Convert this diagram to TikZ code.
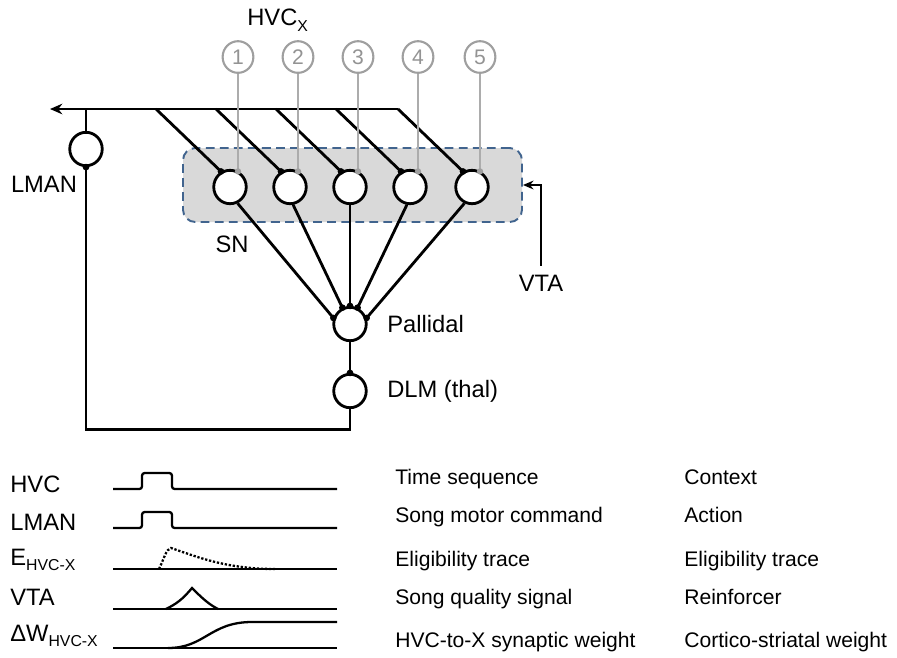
\documentclass[tikz,border=0pt]{standalone}
\usepackage{fontspec}
\setmainfont{Liberation Sans}
\usetikzlibrary{positioning, shapes.geometric, fit, arrows.meta}
\definecolor{boxgray}{HTML}{D9D9D9}
\definecolor{boxblue}{HTML}{41648E}
\newcommand{\lowsub}[1]{\raisebox{-0.45ex}{\fontsize{9}{10}\selectfont #1}}

\begin{document}
\begin{tikzpicture}[x=0.02cm, y=-0.02cm,
		neuron/.style={draw, ellipse, fill=white, line width=1.6pt, minimum width=18.5pt, minimum height=19pt, inner sep=0pt},
		hvcx/.style={draw=gray!75, ellipse, line width=1.2pt, text=gray!85, minimum width=17.5pt, minimum height=18pt, inner sep=0pt, font=\fontsize{12}{14}\selectfont},
		conn/.style={line width=1.6pt},
		gconn/.style={draw=gray!65, line width=1.3pt},
		lbl/.style={font=\fontsize{13.5}{16}\selectfont, inner sep=0pt},
		txt/.style={font=\fontsize{12}{14}\selectfont, anchor=base west, inner sep=0pt},
		trace/.style={line width=1.3pt},
		snbox/.style={draw=boxblue, dash pattern=on 5pt off 3pt, line width=1.1pt, fill=boxgray, rounded corners=7pt}
		]
		\useasboundingbox (0,0) rectangle (897,657);
		% striatal box
		\node[snbox, inner sep=0pt, fit={(183,148) (522,222)}] (box) {};
		\node[lbl] (snlbl) at (232,244) {SN};
		% HVC_X neurons
		\node[lbl, anchor=west] (hvcxlbl) at (247,20) {HVC\lowsub{X}};
		\node[hvcx] (H1) at (238,57) {1};
		\node[hvcx] (H2) at (298,57) {2};
		\node[hvcx] (H3) at (358,57) {3};
		\node[hvcx] (H4) at (418,57) {4};
		\node[hvcx] (H5) at (480,57) {5};
		% spiny neurons
		\node[neuron] (S1) at (230,187) {};
		\node[neuron] (S2) at (290,187) {};
		\node[neuron] (S3) at (350,187) {};
		\node[neuron] (S4) at (410,187) {};
		\node[neuron] (S5) at (472,187) {};
		% other nuclei
		\node[neuron] (L) at (86,149) {};
		\node[lbl] (lmanlbl) at (44,184) {LMAN};
		\node[neuron] (P) at (350,324) {};
		\node[lbl, right=11pt of P] (plbl) {Pallidal};
		\node[neuron] (D) at (350,391) {};
		\node[lbl, right=11pt of D] (dlbl) {DLM (thal)};
		\node[lbl] (vta) at (541,283) {VTA};
		% LMAN output bus
		\coordinate (tip) at (50,109);
		\coordinate (b1) at (156,109);
		\coordinate (b2) at (216,109);
		\coordinate (b3) at (276,109);
		\coordinate (b4) at (336,109);
		\coordinate (b5) at (398,109);
		\draw[conn, -{Stealth[length=7pt,width=6pt]}] (b5) -- (tip);
		\draw[conn] (b1) -- (S1.120);
		\draw[conn] (b2) -- (S2.120);
		\draw[conn] (b3) -- (S3.120);
		\draw[conn] (b4) -- (S4.120);
		\draw[conn] (b5) -- (S5.120);
		\fill (S1.120) circle (1.9pt) (S2.120) circle (1.9pt) (S3.120) circle (1.9pt) (S4.120) circle (1.9pt) (S5.120) circle (1.9pt);
		\draw[gconn] (H1.south) -- (H1.south |- S1.60);
		\draw[gconn] (H2.south) -- (H2.south |- S2.60);
		\draw[gconn] (H3.south) -- (H3.south |- S3.60);
		\draw[gconn] (H4.south) -- (H4.south |- S4.60);
		\draw[gconn] (H5.south) -- (H5.south |- S5.60);
		\fill[gray!75] (H1.south |- S1.60) circle (1.8pt) (H2.south |- S2.60) circle (1.8pt) (H3.south |- S3.60) circle (1.8pt) (H4.south |- S4.60) circle (1.8pt) (H5.south |- S5.60) circle (1.8pt);
		% to pallidal
		\draw[conn] (S1.-65) -- (P.160);
		\draw[conn] (S2.-80) -- (P.115);
		\draw[conn] (S3.south) -- (P.north);
		\draw[conn] (S4.-100) -- (P.65);
		\draw[conn] (S5.-115) -- (P.20);
		\fill (P.160) circle (1.9pt) (P.115) circle (1.9pt) (P.north) circle (1.9pt) (P.65) circle (1.9pt) (P.20) circle (1.9pt);
		\draw[conn] (P.south) -- (D.north);
		\fill (D.north) circle (1.9pt);
		\draw[conn] (D.south) -- ++(0,20) -| (L.south);
		\fill (L.south) circle (1.9pt);
		\draw[conn] (L.north) -- (L.north |- tip);
		\draw[conn, -{Stealth[length=6pt,width=5pt]}] ([yshift=5pt]vta.north) |- (box.east);
		% time courses
		\node[lbl, anchor=base west] (rhvc) at (10,492) {HVC};
		\node[lbl, anchor=base west] (rlman) at (10,530) {LMAN};
		\node[lbl, anchor=base west] (relig) at (10,565) {E\lowsub{HVC-X}};
		\node[lbl, anchor=base west] (rvta) at (10,605) {VTA};
		\node[lbl, anchor=base west] (rdw) at (10,641) {ΔW\lowsub{HVC-X}};
		\draw[trace, rounded corners=1.5pt] (113,489) -- (142,489) -- (142,473) -- (172,473) -- (172,489) -- (337,489);
		\draw[trace, rounded corners=1.5pt] (113,528) -- (142,528) -- (142,512) -- (172,512) -- (172,528) -- (337,528);
		\draw[trace] (113,569) -- (337,569);
		\draw[trace, densely dotted] (159,569) .. controls (164,559) and (166,549) .. (171,548) .. controls (195,556) and (225,569) .. (275,569);
		\draw[trace] (113,609) -- (337,609);
		\draw[trace] (166,609) .. controls (176,604) and (182,600) .. (192,588) .. controls (200,596) and (208,604) .. (218,609);
		\draw[trace] (113,648) -- (337,648);
		\draw[trace] (168,648) .. controls (205,648) and (210,622) .. (252,622) -- (337,622);
		% meanings
		\node[txt] (t1a) at (395,484) {Time sequence};
		\node[txt] (t2a) at (395,522) {Song motor command};
		\node[txt] (t3a) at (395,566) {Eligibility trace};
		\node[txt] (t4a) at (395,604) {Song quality signal};
		\node[txt] (t5a) at (395,647) {HVC-to-X synaptic weight};
		\node[txt] (t1b) at (684,484) {Context};
		\node[txt] (t2b) at (684,522) {Action};
		\node[txt] (t3b) at (684,566) {Eligibility trace};
		\node[txt] (t4b) at (684,604) {Reinforcer};
		\node[txt] (t5b) at (684,647) {Cortico-striatal weight};
	\end{tikzpicture}
\end{document}
